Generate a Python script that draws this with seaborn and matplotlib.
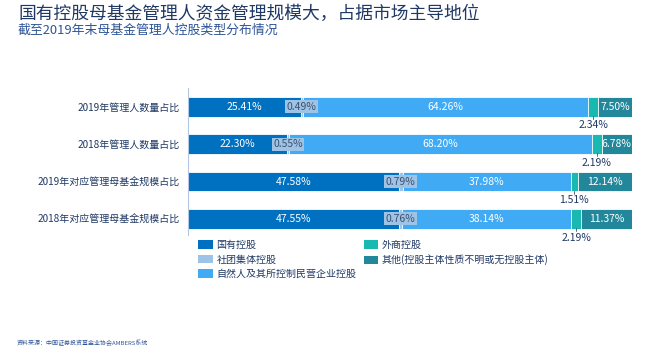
import matplotlib
matplotlib.use("Agg")
import matplotlib.pyplot as plt
from matplotlib.patches import Patch
import seaborn as sns
import pandas as pd
import numpy as np

# Data
categories = ["2019年管理人数量占比", "2018年管理人数量占比",
              "2019年对应管理母基金规模占比", "2018年对应管理母基金规模占比"]
series_names = ["国有控股", "社团集体控股", "自然人及其所控制民营企业控股",
                "外商控股", "其他(控股主体性质不明或无控股主体)"]
state_owned = [25.41, 22.30, 47.58, 47.55]
collective = [0.49, 0.55, 0.79, 0.76]
private = [64.26, 68.20, 37.98, 38.14]
foreign = [2.34, 2.19, 1.51, 2.19]
other = [7.50, 6.78, 12.14, 11.37]
colors = ["#0070C0", "#9DC3E6", "#41AAF5", "#19B9B1", "#23879B"]

sns.set_style("white")
plt.rcParams["font.family"] = ["Noto Sans CJK SC", "DejaVu Sans"]

navy = "#1F3864"

df = pd.DataFrame({"category": categories, "s0": state_owned, "s1": collective,
                   "s2": private, "s3": foreign, "s4": other})
seg_cols = ["s0", "s1", "s2", "s3", "s4"]
cum = df[seg_cols].cumsum(axis=1)

fig = plt.figure(figsize=(6.53, 3.55), dpi=100)
ax = fig.add_axes([188 / 653, 1 - 235 / 355, 443.5 / 653, 147 / 355])

# Stacked bars: draw cumulative totals from the last segment backwards
for i in reversed(range(len(seg_cols))):
    sns.barplot(x=cum[seg_cols[i]], y=df["category"], orient="h", color=colors[i],
                width=0.53, edgecolor="white", linewidth=0.6, saturation=1, ax=ax)

# Segment labels
for r in range(len(categories)):
    starts = [0] + list(cum.iloc[r, :-1])
    for i, col in enumerate(seg_cols):
        v = df.loc[r, col]
        mid = starts[i] + v / 2
        label = f"{v:.2f}%"
        if i == 1:
            ax.text(mid, r, label, ha="center", va="center", fontsize=7.5, color="#404F6B",
                    bbox=dict(boxstyle="square,pad=0.15", fc="#9DC3E6", ec="none"))
        elif i == 3:
            ax.plot([mid, mid], [r + 0.25, r + 0.33], color="#404F6B", lw=0.6)
            ax.text(mid, r + 0.5, label, ha="center", va="center", fontsize=7.5, color=navy)
        else:
            ax.text(mid, r, label, ha="center", va="center", fontsize=7.5, color="white")

ax.set_xlim(0, 100)
ax.set_ylim(3.43, -0.5)
ax.set_xlabel("")
ax.set_ylabel("")
ax.set_xticks([])
ax.tick_params(axis="y", length=0, labelsize=7.2, labelcolor=navy, pad=6)
for s in ["top", "right", "bottom"]:
    ax.spines[s].set_visible(False)
ax.spines["left"].set_color("#B4C7E7")
ax.spines["left"].set_linewidth(0.8)

# Legend
handles = [Patch(facecolor=c, edgecolor="none") for c in colors]
fig.legend(handles, series_names, loc="upper left", bbox_to_anchor=(198 / 653, 1 - 240 / 355),
           ncol=2, frameon=False, fontsize=7.2, labelcolor=navy, handlelength=1.45,
           handleheight=0.9, handletextpad=0.4, labelspacing=0.45, columnspacing=0.7,
           borderpad=0, borderaxespad=0)

# Titles and source
fig.text(18 / 653, 1 - 14 / 355, "国有控股母基金管理人资金管理规模大，占据市场主导地位",
         fontsize=12.8, color=navy, va="center", ha="left", fontweight="medium")
fig.text(18 / 653, 1 - 30 / 355, "截至2019年末母基金管理人控股类型分布情况",
         fontsize=9.3, color="#2E5496", va="center", ha="left")
fig.text(17 / 653, 1 - 343 / 355, "资料来源：中国证券投资基金业协会AMBERS系统",
         fontsize=4.3, color="#2E5496", va="center", ha="left")

fig.savefig("out.png", dpi=100)
